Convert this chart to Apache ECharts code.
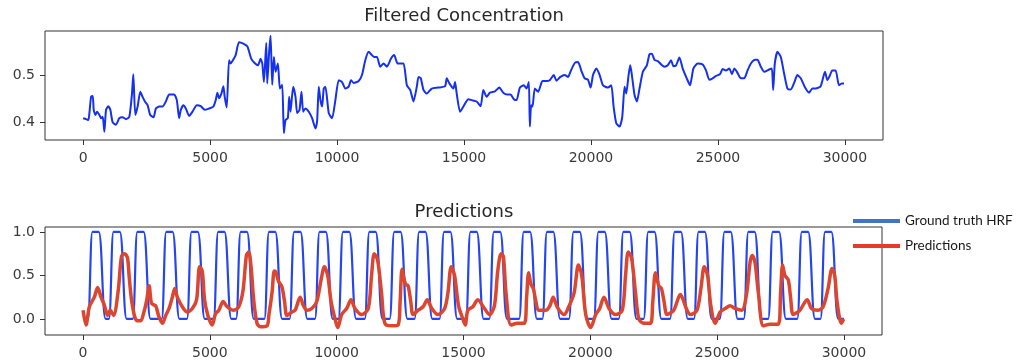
<!DOCTYPE html>
<html>
<head>
<meta charset="utf-8">
<title>Filtered Concentration / Predictions</title>
<script src="https://cdn.jsdelivr.net/npm/echarts@6/dist/echarts.min.js"></script>
<style>
  html, body { margin: 0; padding: 0; background: #fff; }
  #chart { width: 1017px; height: 362px; }
</style>
</head>
<body>
<div id="chart"></div>
<script>
// tick labels
const xTicks = [0, 5000, 10000, 15000, 20000, 25000, 30000];
const concTicks = [0.4, 0.5];
const predTicks = [0.0, 0.5, 1.0];

// top panel: filtered concentration
const concX = [0, 118, 209, 249, 314, 380, 419, 484, 550, 641, 707, 772, 838, 903, 995, 1073, 1165, 1296, 1427, 1558,
  1689, 1820, 1924, 1977, 2055, 2147, 2251, 2343, 2435, 2539, 2644, 2775, 2867, 2998, 3129, 3259, 3390, 3587, 3691, 3783,
  3848, 3953, 4045, 4176, 4307, 4477, 4634, 4791, 4961, 5131, 5223, 5288, 5354, 5446, 5524, 5576, 5655, 5747, 5812, 5877,
  6008, 6139, 6309, 6467, 6624, 6755, 6885, 6990, 7056, 7121, 7213, 7252, 7330, 7383, 7448, 7514, 7579, 7671, 7749, 7841,
  7906, 7972, 8063, 8116, 8168, 8273, 8365, 8430, 8522, 8600, 8666, 8757, 8888, 9019, 9150, 9215, 9281, 9346, 9412, 9477,
  9543, 9674, 9805, 9935, 10066, 10197, 10328, 10459, 10550, 10655, 10851, 10982, 11113, 11244, 11375, 11467, 11572, 11703, 11833, 11964,
  12121, 12252, 12383, 12488, 12619, 12750, 12881, 13011, 13142, 13208, 13299, 13404, 13535, 13731, 13993, 14255, 14320, 14425, 14582, 14647,
  14713, 14844, 14975, 15171, 15302, 15498, 15655, 15760, 15891, 16022, 16218, 16388, 16545, 16702, 16833, 16964, 17069, 17200, 17357, 17462,
  17553, 17593, 17645, 17697, 17789, 17920, 18090, 18247, 18378, 18535, 18640, 18797, 18967, 19098, 19190, 19360, 19491, 19622, 19752, 19883,
  19988, 20080, 20211, 20342, 20472, 20669, 20800, 20891, 20996, 21127, 21232, 21323, 21389, 21481, 21546, 21611, 21716, 21808, 21912, 22043,
  22200, 22305, 22397, 22501, 22632, 22763, 22894, 23025, 23156, 23247, 23352, 23483, 23614, 23771, 23902, 24033, 24203, 24399, 24530, 24661,
  24792, 24923, 25080, 25185, 25316, 25447, 25552, 25643, 25748, 25905, 26036, 26167, 26298, 26468, 26559, 26690, 26821, 27017, 27122, 27175,
  27240, 27345, 27476, 27607, 27738, 27868, 27999, 28130, 28261, 28431, 28588, 28719, 28850, 29046, 29216, 29308, 29400, 29504, 29635, 29766,
  29871, 29963];
const concY = [0.408, 0.406, 0.404, 0.419, 0.454, 0.456, 0.426, 0.415, 0.422, 0.415, 0.408, 0.411, 0.379, 0.426, 0.434, 0.426, 0.399, 0.394, 0.408, 0.410,
  0.406, 0.411, 0.460, 0.503, 0.415, 0.433, 0.465, 0.454, 0.444, 0.436, 0.415, 0.410, 0.429, 0.433, 0.433, 0.444, 0.459, 0.459, 0.447, 0.408,
  0.426, 0.436, 0.429, 0.413, 0.422, 0.436, 0.434, 0.426, 0.429, 0.433, 0.447, 0.463, 0.451, 0.461, 0.477, 0.454, 0.431, 0.533, 0.526, 0.531,
  0.544, 0.572, 0.569, 0.563, 0.536, 0.527, 0.522, 0.536, 0.526, 0.486, 0.570, 0.483, 0.554, 0.586, 0.480, 0.540, 0.508, 0.526, 0.472, 0.480,
  0.376, 0.404, 0.408, 0.454, 0.422, 0.476, 0.454, 0.419, 0.426, 0.465, 0.422, 0.429, 0.422, 0.408, 0.386, 0.401, 0.476, 0.447, 0.433, 0.472,
  0.476, 0.419, 0.408, 0.447, 0.490, 0.486, 0.472, 0.476, 0.490, 0.484, 0.488, 0.501, 0.533, 0.551, 0.544, 0.540, 0.540, 0.519, 0.526, 0.519,
  0.536, 0.544, 0.526, 0.526, 0.526, 0.479, 0.469, 0.444, 0.476, 0.497, 0.494, 0.469, 0.461, 0.472, 0.474, 0.477, 0.494, 0.483, 0.472, 0.486,
  0.461, 0.422, 0.433, 0.449, 0.447, 0.444, 0.434, 0.469, 0.454, 0.463, 0.466, 0.474, 0.463, 0.459, 0.459, 0.449, 0.447, 0.474, 0.479, 0.472,
  0.486, 0.390, 0.436, 0.433, 0.472, 0.465, 0.488, 0.488, 0.490, 0.501, 0.489, 0.497, 0.501, 0.497, 0.508, 0.527, 0.529, 0.510, 0.494, 0.491,
  0.474, 0.501, 0.515, 0.501, 0.479, 0.474, 0.479, 0.433, 0.397, 0.390, 0.411, 0.476, 0.461, 0.501, 0.522, 0.501, 0.458, 0.444, 0.472, 0.508,
  0.522, 0.546, 0.547, 0.534, 0.531, 0.524, 0.519, 0.522, 0.533, 0.520, 0.522, 0.539, 0.515, 0.494, 0.479, 0.515, 0.526, 0.524, 0.511, 0.491,
  0.494, 0.499, 0.503, 0.514, 0.511, 0.515, 0.503, 0.515, 0.508, 0.494, 0.494, 0.511, 0.526, 0.534, 0.534, 0.519, 0.508, 0.513, 0.515, 0.469,
  0.526, 0.551, 0.540, 0.504, 0.472, 0.470, 0.484, 0.501, 0.494, 0.474, 0.463, 0.472, 0.472, 0.477, 0.508, 0.490, 0.499, 0.511, 0.511, 0.479,
  0.483, 0.483];

// bottom panel: ground truth HRF, corners of each block
const hrfX = [0,
  190, 370, 620, 890, 1020, 1200, 1450, 1720, 1960, 2140, 2390, 2660, 3100, 3280, 3530, 3800, 4098, 4278, 4528, 4798,
  5147, 5327, 5577, 5847, 6034, 6214, 6464, 6734, 7150, 7330, 7580, 7850, 8143, 8323, 8573, 8843, 9144, 9324, 9574, 9844,
  10067, 10247, 10497, 10767, 11108, 11288, 11538, 11808, 12090, 12270, 12520, 12790, 13071, 13251, 13501, 13771, 14053, 14233, 14483, 14753,
  15094, 15274, 15524, 15794, 16017, 16197, 16447, 16717, 17195, 17375, 17625, 17895, 18110, 18290, 18540, 18810, 19158, 19338, 19588, 19858,
  20140, 20320, 20570, 20840, 21122, 21302, 21552, 21822, 22103, 22283, 22533, 22803, 23144, 23324, 23574, 23844, 24087, 24267, 24517, 24787,
  25108, 25288, 25538, 25808, 26050, 26230, 26480, 26750, 27012, 27192, 27442, 27712, 28159, 28339, 28589, 28859, 29074, 29254, 29504, 29774,
  30000];
const hrfY = [0,
  0, 1, 1, 0, 0, 1, 1, 0, 0, 1, 1, 0, 0, 1, 1, 0, 0, 1, 1, 0,
  0, 1, 1, 0, 0, 1, 1, 0, 0, 1, 1, 0, 0, 1, 1, 0, 0, 1, 1, 0,
  0, 1, 1, 0, 0, 1, 1, 0, 0, 1, 1, 0, 0, 1, 1, 0, 0, 1, 1, 0,
  0, 1, 1, 0, 0, 1, 1, 0, 0, 1, 1, 0, 0, 1, 1, 0, 0, 1, 1, 0,
  0, 1, 1, 0, 0, 1, 1, 0, 0, 1, 1, 0, 0, 1, 1, 0, 0, 1, 1, 0,
  0, 1, 1, 0, 0, 1, 1, 0, 0, 1, 1, 0, 0, 1, 1, 0, 0, 1, 1, 0,
  0];

// bottom panel: predictions
const predX = [0, 118, 249, 445, 576, 707, 838, 969, 1073, 1204, 1388, 1518, 1649, 1754, 1820, 1911, 2042, 2147, 2278, 2382,
  2513, 2605, 2697, 2801, 2867, 2998, 3129, 3259, 3390, 3521, 3613, 3718, 3914, 4110, 4307, 4477, 4595, 4700, 4791, 4922,
  5092, 5223, 5354, 5524, 5681, 5943, 6139, 6309, 6440, 6532, 6624, 6728, 6859, 6990, 7252, 7330, 7450, 7540, 7600, 7710,
  7840, 7945, 8037, 8233, 8364, 8561, 8692, 8823, 9019, 9215, 9385, 9516, 9647, 9778, 9935, 10040, 10197, 10393, 10563, 10720,
  10982, 11244, 11375, 11480, 11611, 11768, 11899, 12161, 12422, 12501, 12579, 12710, 12815, 12920, 13012, 13208, 13404, 13574, 13731, 13993,
  14255, 14386, 14517, 14648, 14805, 14975, 15067, 15171, 15368, 15564, 15826, 16023, 16219, 16350, 16481, 16572, 16677, 16874, 17135, 17397,
  17489, 17567, 17659, 17751, 17855, 17960, 18248, 18405, 18535, 18706, 18968, 19164, 19361, 19531, 19662, 19819, 20015, 20212, 20369, 20539,
  20736, 20997, 21259, 21390, 21495, 21626, 21783, 21913, 22110, 22372, 22463, 22568, 22699, 22803, 22908, 23026, 23288, 23550, 23812, 23942,
  24204, 24361, 24492, 24622, 24753, 24924, 25120, 25316, 25513, 25709, 25971, 26167, 26298, 26390, 26494, 26625, 26822, 27083, 27411, 27502,
  27581, 27672, 27803, 27895, 28000, 28262, 28550, 28720, 28982, 29178, 29374, 29531, 29636, 29728, 29898, 29990];
const predY = [0.10, -0.07, 0.14, 0.25, 0.36, 0.25, 0.16, 0.04, 0.10, 0.04, 0.33, 0.72, 0.75, 0.70, 0.48, 0.22, 0.02, -0.02, -0.02, 0.06,
  0.22, 0.38, 0.18, 0.16, 0.15, 0.02, -0.05, 0.04, 0.12, 0.25, 0.35, 0.25, 0.14, 0.08, 0.12, 0.22, 0.60, 0.55, 0.22, 0.04,
  -0.07, 0.06, 0.10, 0.20, 0.14, 0.10, 0.14, 0.33, 0.73, 0.77, 0.60, 0.22, -0.05, -0.09, -0.08, 0.05, 0.30, 0.55, 0.54, 0.43,
  0.37, 0.20, 0.04, 0.08, 0.10, 0.25, 0.15, 0.10, 0.12, 0.20, 0.45, 0.60, 0.50, 0.20, 0.00, -0.10, 0.05, 0.12, 0.22, 0.12,
  0.05, 0.12, 0.50, 0.75, 0.68, 0.30, -0.05, -0.08, -0.07, 0.20, 0.57, 0.40, 0.38, 0.20, 0.05, 0.10, 0.14, 0.22, 0.13, 0.05,
  0.12, 0.30, 0.60, 0.50, 0.15, 0.00, -0.07, 0.10, 0.14, 0.22, 0.12, 0.05, 0.15, 0.55, 0.75, 0.72, 0.30, -0.07, -0.05, -0.05,
  0.25, 0.53, 0.40, 0.35, 0.20, 0.10, 0.10, 0.15, 0.25, 0.13, 0.05, 0.15, 0.30, 0.62, 0.50, 0.05, -0.10, 0.05, 0.12, 0.25,
  0.12, 0.05, 0.10, 0.50, 0.77, 0.70, 0.30, 0.00, -0.05, -0.05, 0.20, 0.53, 0.38, 0.35, 0.20, 0.05, 0.10, 0.28, 0.10, 0.05,
  0.10, 0.35, 0.60, 0.50, 0.15, -0.05, 0.08, 0.12, 0.15, 0.12, 0.10, 0.30, 0.65, 0.73, 0.65, 0.30, -0.08, -0.06, -0.06, 0.30,
  0.62, 0.50, 0.45, 0.25, 0.05, 0.10, 0.22, 0.12, 0.10, 0.14, 0.35, 0.58, 0.50, 0.20, -0.05, 0.00];

const pairs = (xs, ys) => xs.map((x, i) => [x, ys[i]]);

const axisText = { fontFamily: 'DejaVu Sans', fontSize: 14, color: '#3a3a3a' };

function xAxisFor(gridIndex) {
  return {
    type: 'value', gridIndex: gridIndex, min: -1500, max: 31500, position: 'bottom',
    axisLine: { show: false, onZero: false },
    splitLine: { show: false },
    axisTick: { show: true, length: 5, lineStyle: { color: '#333' }, customValues: xTicks },
    axisLabel: Object.assign({ margin: 11, customValues: xTicks, formatter: v => String(v) }, axisText)
  };
}

function yAxisFor(gridIndex, min, max, ticks) {
  return {
    type: 'value', gridIndex: gridIndex, min: min, max: max, position: 'left',
    axisLine: { show: false, onZero: false },
    splitLine: { show: false },
    axisTick: { show: true, length: 5, lineStyle: { color: '#333' }, customValues: ticks },
    axisLabel: Object.assign({ margin: 10, customValues: ticks, formatter: v => v.toFixed(1) }, axisText)
  };
}

const titleText = { fontFamily: 'DejaVu Sans', fontSize: 18, fontWeight: 'normal', color: '#262626' };

const chart = echarts.init(document.getElementById('chart'));
chart.setOption({
  animation: false,
  backgroundColor: '#fff',
  title: [
    { text: 'Filtered Concentration', left: 464, top: 7, textAlign: 'center', padding: 0, textStyle: titleText },
    { text: 'Predictions', left: 464, top: 203, textAlign: 'center', padding: 0, textStyle: titleText }
  ],
  legend: {
    orient: 'vertical', left: 848, top: 208,
    itemWidth: 47, itemHeight: 4, itemGap: 9, icon: 'rect',
    textStyle: { fontFamily: 'Lato', fontSize: 13.5, color: '#1a1a1a', lineHeight: 16 },
    data: [
      { name: 'Ground truth HRF', itemStyle: { color: '#4472C4' } },
      { name: 'Predictions', itemStyle: { color: '#E8392B' } }
    ]
  },
  grid: [
    { left: 45, top: 31, width: 838, height: 109, show: true, borderColor: '#333', borderWidth: 1 },
    { left: 45, top: 227, width: 837, height: 108, show: true, borderColor: '#333', borderWidth: 1 }
  ],
  xAxis: [xAxisFor(0), xAxisFor(1)],
  yAxis: [
    yAxisFor(0, 0.361, 0.596, concTicks),
    yAxisFor(1, -0.185, 1.057, predTicks)
  ],
  series: [
    {
      name: 'Filtered Concentration', type: 'line', xAxisIndex: 0, yAxisIndex: 0,
      data: pairs(concX, concY), showSymbol: false, smooth: 0.2,
      lineStyle: { color: '#1530f0', width: 2 }, itemStyle: { color: '#1530f0' }
    },
    {
      name: 'Ground truth HRF', type: 'line', xAxisIndex: 1, yAxisIndex: 1,
      data: pairs(hrfX, hrfY), showSymbol: false, smooth: 0.5, smoothMonotone: 'x',
      lineStyle: { color: '#2446f2', width: 2.2 }, itemStyle: { color: '#2446f2' }
    },
    {
      name: 'Predictions', type: 'line', xAxisIndex: 1, yAxisIndex: 1,
      data: pairs(predX, predY), showSymbol: false, smooth: 0.3,
      lineStyle: { color: '#dc4630', width: 3.5 }, itemStyle: { color: '#dc4630' }
    }
  ]
});
</script>
</body>
</html>
